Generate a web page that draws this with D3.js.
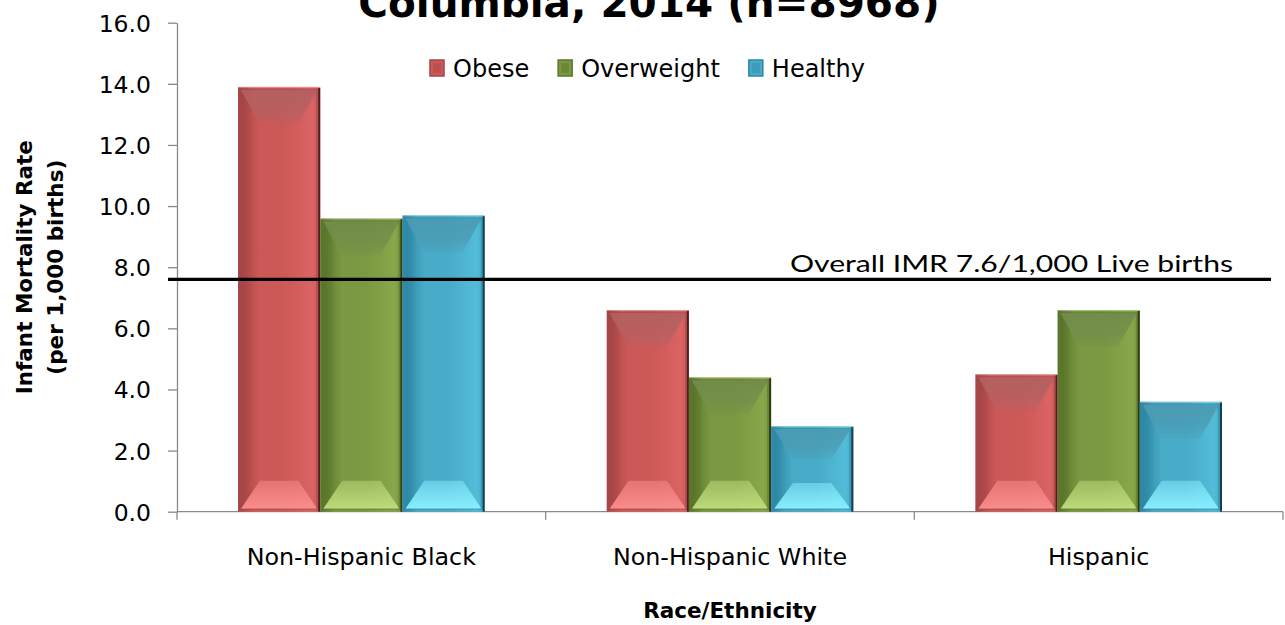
<!DOCTYPE html>
<html>
<head>
<meta charset="utf-8">
<script src="https://cdn.jsdelivr.net/npm/d3@7"></script>
<style>
  html, body { margin: 0; padding: 0; background: #ffffff; }
  svg { display: block; }
  text { font-family: "DejaVu Sans", sans-serif; fill: #000; }
</style>
</head>
<body>
<svg id="chart" width="1285" height="625"></svg>
<script>
// Infant mortality rate per 1,000 births by race/ethnicity and maternal weight status
const categories = ["Non-Hispanic Black", "Non-Hispanic White", "Hispanic"];
const seriesNames = ["Obese", "Overweight", "Healthy"];
const obese = [13.9, 6.6, 4.5];
const overweight = [9.6, 4.4, 6.6];
const healthy = [9.7, 2.8, 3.6];
const yTicks = [0, 2, 4, 6, 8, 10, 12, 14, 16];
const overallIMR = 7.6;
const overallLabel = "Overall IMR 7.6/1,000 Live births";
const titleText = "Columbia, 2014 (n=8968)";
const xTitle = "Race/Ethnicity";
const yTitleLines = ["Infant Mortality Rate", "(per 1,000 births)"];

const seriesValues = [obese, overweight, healthy];

// bevel palette per series
const palettes = [
  { dark: "#a44545", base: "#cd5858", light: "#da6363", top: "#b36060", bottom: "#fa8c8c", edge: "#3b1414" },
  { dark: "#58742a", base: "#7b9942", light: "#87a74a", top: "#718c4a", bottom: "#bddb7a", edge: "#1e2a0b" },
  { dark: "#2c87a3", base: "#48abc8", light: "#53bcd8", top: "#4b9ab2", bottom: "#88eeff", edge: "#0d2c36" }
];

const svg = d3.select("#chart");
const margin = { left: 177, right: 2, top: 22.7, bottom: 113.3 };
const W = 1285, H = 625;
const plotBottom = H - margin.bottom;

const x = d3.scaleBand()
  .domain(categories)
  .range([margin.left, W - margin.right])
  .paddingInner(0.331)
  .paddingOuter(0.1655);

const xs = d3.scaleBand()
  .domain(seriesNames)
  .range([0, x.bandwidth()])
  .padding(0);

const y = d3.scaleLinear()
  .domain([0, 16])
  .range([plotBottom, margin.top]);

// gradients
const defs = svg.append("defs");
palettes.forEach((p, i) => {
  const body = defs.append("linearGradient").attr("id", "body" + i)
    .attr("x1", 0).attr("x2", 1).attr("y1", 0).attr("y2", 0);
  body.append("stop").attr("offset", 0).attr("stop-color", p.dark);
  body.append("stop").attr("offset", 0.18).attr("stop-color", p.base);
  body.append("stop").attr("offset", 0.55).attr("stop-color", p.base);
  body.append("stop").attr("offset", 0.9).attr("stop-color", p.light);
  body.append("stop").attr("offset", 1).attr("stop-color", p.base);

  const top = defs.append("linearGradient").attr("id", "top" + i)
    .attr("x1", 0).attr("x2", 0).attr("y1", 0).attr("y2", 1);
  top.append("stop").attr("offset", 0).attr("stop-color", p.top).attr("stop-opacity", 0.95);
  top.append("stop").attr("offset", 0.6).attr("stop-color", p.top).attr("stop-opacity", 0.75);
  top.append("stop").attr("offset", 1).attr("stop-color", p.top).attr("stop-opacity", 0.25);

  const bot = defs.append("linearGradient").attr("id", "bot" + i)
    .attr("x1", 0).attr("x2", 0).attr("y1", 0).attr("y2", 1);
  bot.append("stop").attr("offset", 0).attr("stop-color", p.bottom).attr("stop-opacity", 0.5);
  bot.append("stop").attr("offset", 1).attr("stop-color", p.bottom).attr("stop-opacity", 1);

  const left = defs.append("linearGradient").attr("id", "left" + i)
    .attr("x1", 0).attr("x2", 1).attr("y1", 0).attr("y2", 0);
  left.append("stop").attr("offset", 0).attr("stop-color", p.dark).attr("stop-opacity", 0.9);
  left.append("stop").attr("offset", 1).attr("stop-color", p.dark).attr("stop-opacity", 0);
});

// title (last line of a multi-line heading)
svg.append("text")
  .attr("x", 649).attr("y", 17)
  .attr("text-anchor", "middle")
  .style("font-size", "40.5px").style("font-weight", "bold")
  .text(titleText);

// y axis
const yAxis = d3.axisLeft(y)
  .tickValues(yTicks)
  .tickFormat(d3.format(".1f"))
  .tickSize(9)
  .tickSizeOuter(0)
  .tickPadding(17);
const gy = svg.append("g")
  .attr("transform", `translate(${margin.left},0)`)
  .call(yAxis);
gy.select(".domain").attr("stroke", "#8a8a8a").attr("stroke-width", 1.3);
gy.selectAll(".tick line").attr("stroke", "#8a8a8a").attr("stroke-width", 1.3);
gy.selectAll(".tick text")
  .style("font-family", "'DejaVu Sans', sans-serif")
  .style("font-size", "23.5px").attr("fill", "#000").attr("dy", "0.36em");

// x axis baseline and category boundary ticks
const gx = svg.append("g");
gx.append("line")
  .attr("x1", margin.left).attr("x2", W - margin.right)
  .attr("y1", plotBottom).attr("y2", plotBottom)
  .attr("stroke", "#8a8a8a").attr("stroke-width", 1.3);
const bounds = d3.range(categories.length + 1).map(i => x.range()[0] + i * x.step());
gx.selectAll("line.b").data(bounds).join("line").attr("class", "b")
  .attr("x1", d => d).attr("x2", d => d)
  .attr("y1", plotBottom).attr("y2", plotBottom + 8)
  .attr("stroke", "#8a8a8a").attr("stroke-width", 1.3);
gx.selectAll("text.cat").data(categories).join("text").attr("class", "cat")
  .attr("x", d => x(d) + x.bandwidth() / 2)
  .attr("y", 565)
  .attr("text-anchor", "middle")
  .style("font-size", "23.8px")
  .text(d => d);

// axis titles
svg.append("text")
  .attr("x", x.range()[0] + (x.range()[1] - x.range()[0]) / 2)
  .attr("y", 618)
  .attr("text-anchor", "middle")
  .style("font-size", "21.5px").style("font-weight", "bold")
  .text(xTitle);

const yMid = (margin.top + plotBottom) / 2;
yTitleLines.forEach((t, i) => {
  svg.append("text")
    .attr("transform", `translate(${32 + i * 31},${yMid}) rotate(-90)`)
    .attr("text-anchor", "middle")
    .style("font-size", "21.5px").style("font-weight", "bold")
    .text(t);
});

// bars
const barData = [];
categories.forEach((c, ci) => {
  seriesNames.forEach((s, si) => {
    barData.push({ cat: c, series: s, si, value: seriesValues[si][ci] });
  });
});

const bars = svg.append("g").selectAll("g.bar").data(barData).join("g").attr("class", "bar");
bars.each(function (d) {
  const g = d3.select(this);
  const p = palettes[d.si];
  const x0 = x(d.cat) + xs(d.series);
  const w = xs.bandwidth();
  const x1 = x0 + w;
  const t = y(d.value);
  const b = y(0);
  const h = b - t;
  const inset = Math.min(19, w * 0.23);
  const dTop = Math.min(34, h * 0.35);
  const dBot = Math.min(28, h * 0.3);
  const f = 3; // inner frame

  g.append("rect").attr("x", x0).attr("y", t).attr("width", w).attr("height", h)
    .attr("fill", `url(#body${d.si})`);
  // left shading
  g.append("polygon")
    .attr("points", [[x0 + f, t + f], [x0 + f + inset, t + f + dTop], [x0 + f + inset, b - f - dBot], [x0 + f, b - f]].join(" "))
    .attr("fill", `url(#left${d.si})`);
  // top bevel
  g.append("polygon")
    .attr("points", [[x0 + f, t + f], [x1 - f, t + f], [x1 - f - inset, t + f + dTop], [x0 + f + inset, t + f + dTop]].join(" "))
    .attr("fill", `url(#top${d.si})`);
  // bottom bevel
  g.append("polygon")
    .attr("points", [[x0 + f + inset, b - f - dBot], [x1 - f - inset, b - f - dBot], [x1 - f, b - f], [x0 + f, b - f]].join(" "))
    .attr("fill", `url(#bot${d.si})`);
  // inner frame
  g.append("rect").attr("x", x0 + f - 0.5).attr("y", t + f - 0.5).attr("width", w - 2 * f + 1).attr("height", h - 2 * f + 1)
    .attr("fill", "none").attr("stroke", p.dark).attr("stroke-opacity", 0.55).attr("stroke-width", 1.2);
  // outer top highlight and right shadow
  g.append("line").attr("x1", x0).attr("x2", x1).attr("y1", t + 0.5).attr("y2", t + 0.5)
    .attr("stroke", "#ffffff").attr("stroke-opacity", 0.35);
  g.append("line").attr("x1", x1 - 1).attr("x2", x1 - 1).attr("y1", t + 1).attr("y2", b)
    .attr("stroke", p.edge).attr("stroke-opacity", 0.85).attr("stroke-width", 2);
  g.append("line").attr("x1", x1 - 3.5).attr("x2", x1 - 3.5).attr("y1", t + 3).attr("y2", b - 3)
    .attr("stroke", p.dark).attr("stroke-opacity", 0.6).attr("stroke-width", 1);
});

// overall rate reference line
svg.append("line")
  .attr("x1", margin.left - 9).attr("x2", 1271)
  .attr("y1", y(overallIMR)).attr("y2", y(overallIMR))
  .attr("stroke", "#000").attr("stroke-width", 3.2);
svg.append("text")
  .attr("x", 790).attr("y", 272)
  .attr("textLength", 443)
  .attr("lengthAdjust", "spacingAndGlyphs")
  .style("font-family", "Lato, sans-serif")
  .style("font-size", "24px")
  .text(overallLabel);

// legend
const legend = svg.append("g");
let lx = 430;
seriesNames.forEach((s, i) => {
  const p = palettes[i];
  const item = legend.append("g");
  item.append("rect").attr("x", lx).attr("y", 60).attr("width", 14).attr("height", 16)
    .attr("fill", p.base).attr("stroke", p.dark).attr("stroke-width", 1.5);
  item.append("rect").attr("x", lx + 3).attr("y", 63).attr("width", 8).attr("height", 10)
    .attr("fill", p.dark).attr("fill-opacity", 0.45);
  const txt = item.append("text").attr("x", lx + 23).attr("y", 77)
    .style("font-size", "24px").text(s);
  const tw = txt.node().getComputedTextLength();
  lx += 23 + tw + 29;
});
</script>
</body>
</html>
